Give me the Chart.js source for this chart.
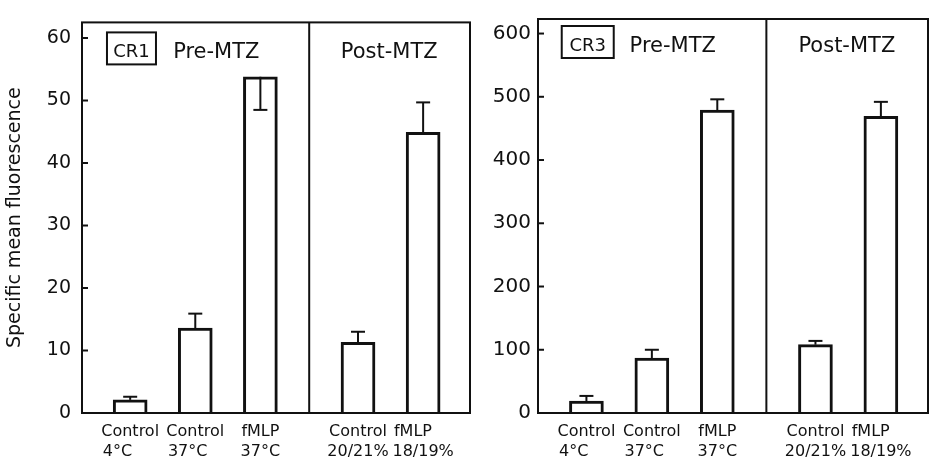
<!DOCTYPE html>
<html lang="en">
<head>
<meta charset="UTF-8">
<title>CR1 / CR3 specific mean fluorescence</title>
<script src="https://cdn.jsdelivr.net/npm/chart.js"></script>
<style>
  body { margin: 0; background: #fff; }
  .wrap { position: absolute; top: 0; height: 463px; }
  #left { left: 0; width: 474px; }
  #right { left: 474px; width: 455px; }
</style>
</head>
<body>
<div class="wrap" id="left"><canvas id="cr1Chart"></canvas></div>
<div class="wrap" id="right"><canvas id="cr3Chart"></canvas></div>
<script>
// categories (two-line labels) and their place on the x axis
const labelTop = ['Control', 'Control', 'fMLP', 'Control', 'fMLP'];
const labelBottom = ['4°C', '37°C', '37°C', '20/21%', '18/19%'];
const xPos = [1, 2, 3, 4.5, 5.5];
const dividerAt = 3.75;

// CR1 panel
const cr1Values = [2.1, 13.6, 53.8, 11.3, 44.9];
const cr1ErrEnds = [2.6, 15.9, 48.5, 13.0, 49.7];
const cr1Ticks = [0, 10, 20, 30, 40, 50, 60];

// CR3 panel
const cr3Values = [19, 87, 479, 108, 469];
const cr3ErrEnds = [27, 100, 496, 114, 492];
const cr3Ticks = [0, 100, 200, 300, 400, 500, 600];

const FONT = '"DejaVu Sans", sans-serif';
const INK = '#111';

// pad the shorter line with spaces so both lines start at the same x
const measureCtx = document.createElement('canvas').getContext('2d');
measureCtx.font = '16px ' + FONT;
function padLines(lines) {
    const w = Math.max(...lines.map(l => measureCtx.measureText(l).width));
    return lines.map(l => {
        let s = l;
        while (measureCtx.measureText(s + ' ').width <= w + 1) s += ' ';
        return s;
    });
}

const framePlugin = {
    id: 'frame',
    afterDatasetsDraw(chart, args, opts) {
        const { ctx, chartArea: a, scales: { x, y } } = chart;
        const ds = chart.data.datasets[0];
        ctx.save();
        ctx.strokeStyle = INK;
        ctx.fillStyle = INK;
        ctx.lineWidth = 2;
        const seg = (x1, y1, x2, y2) => {
            ctx.beginPath(); ctx.moveTo(x1, y1); ctx.lineTo(x2, y2); ctx.stroke();
        };

        // frame and divider
        ctx.strokeRect(a.left, a.top, a.right - a.left, a.bottom - a.top);
        const dx = x.getPixelForValue(dividerAt);
        seg(dx, a.top, dx, a.bottom);

        // inward tick marks
        y.ticks.forEach(t => {
            const py = y.getPixelForValue(t.value);
            seg(a.left, py, a.left + 6, py);
        });

        // error bars
        chart.getDatasetMeta(0).data.forEach((bar, i) => {
            const y0 = y.getPixelForValue(ds.data[i].y);
            const y1 = y.getPixelForValue(ds.errEnds[i]);
            seg(bar.x, y0, bar.x, y1);
            seg(bar.x - 7, y1, bar.x + 7, y1);
        });

        // receptor box
        const bx = x.getPixelForValue(opts.boxAt);
        const by = a.top + opts.boxTop;
        ctx.strokeRect(bx - opts.boxW / 2, by, opts.boxW, 32);
        ctx.font = '18px ' + FONT;
        ctx.textAlign = 'center';
        ctx.textBaseline = 'alphabetic';
        ctx.fillText(opts.receptor, bx, a.top + opts.baseline - 1);

        // group headings
        ctx.font = '21px ' + FONT;
        ctx.textAlign = 'left';
        ctx.fillText('Pre-MTZ', x.getPixelForValue(1.66), a.top + opts.baseline);
        ctx.textAlign = 'center';
        ctx.fillText('Post-MTZ', x.getPixelForValue(4.98), a.top + opts.baseline);
        ctx.restore();
    }
};

function makeChart(id, values, errEnds, yTicks, yMax, opt) {
    return new Chart(document.getElementById(id), {
        type: 'bar',
        data: {
            datasets: [{
                data: xPos.map((v, i) => ({ x: v, y: values[i] })),
                errEnds: errEnds,
                backgroundColor: '#fff',
                borderColor: INK,
                borderWidth: 3,
                barThickness: 34
            }]
        },
        options: {
            responsive: true,
            maintainAspectRatio: false,
            animation: false,
            layout: { padding: opt.padding },
            plugins: {
                legend: { display: false },
                tooltip: { enabled: false },
                frame: opt.frame
            },
            scales: {
                x: {
                    type: 'linear',
                    offset: false,
                    min: 0.26,
                    max: 6.22,
                    afterBuildTicks: s => { s.ticks = xPos.map(v => ({ value: v })); },
                    afterFit: s => { s.height = 50; },
                    grid: { display: false, drawTicks: false, offset: false },
                    border: { display: false },
                    ticks: {
                        callback: (v, i) => padLines([labelTop[i], labelBottom[i]]),
                        font: { size: 16, family: FONT, lineHeight: 1.25 },
                        color: INK,
                        padding: 9,
                        maxRotation: 0,
                        autoSkip: false
                    }
                },
                y: {
                    min: 0,
                    max: yMax,
                    afterBuildTicks: s => { s.ticks = yTicks.map(v => ({ value: v })); },
                    afterFit: s => { s.width = opt.yWidth; },
                    grid: { display: false, drawTicks: false },
                    border: { display: false },
                    ticks: {
                        font: { size: opt.tickSize, family: FONT },
                        color: INK,
                        padding: opt.tickPad
                    },
                    title: {
                        display: opt.title !== '',
                        text: opt.title,
                        font: { size: 19, family: FONT },
                        color: INK,
                        padding: { top: 4, bottom: 0 }
                    }
                }
            }
        },
        plugins: [framePlugin]
    });
}

makeChart('cr1Chart', cr1Values, cr1ErrEnds, cr1Ticks, 62.5, {
    padding: { top: 6, right: 4, left: 0, bottom: 0 },
    yWidth: 82, tickSize: 19, tickPad: 11,
    title: 'Specific mean fluorescence',
    frame: { receptor: 'CR1', boxAt: 1.02, boxW: 49, boxTop: 10, baseline: 36 }
});

makeChart('cr3Chart', cr3Values, cr3ErrEnds, cr3Ticks, 623, {
    padding: { top: 9, right: 1, left: 0, bottom: 0 },
    yWidth: 64, tickSize: 20, tickPad: 7,
    title: '',
    frame: { receptor: 'CR3', boxAt: 1.02, boxW: 52, boxTop: 7, baseline: 33 }
});
</script>
</body>
</html>
